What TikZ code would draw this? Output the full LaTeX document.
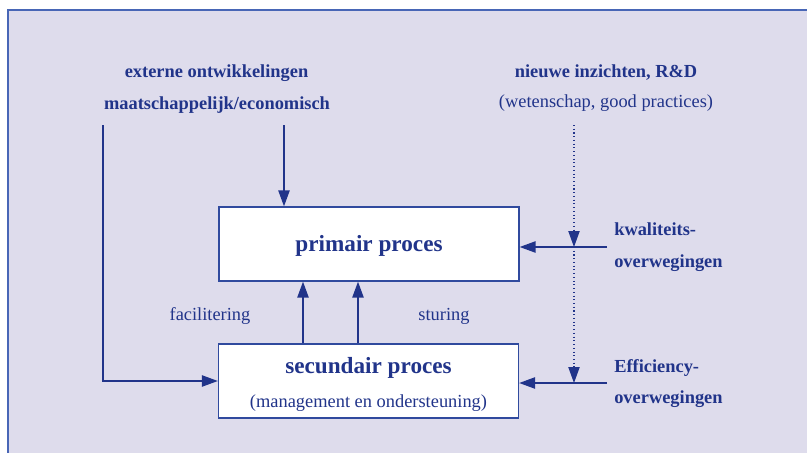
\documentclass[tikz,border=0pt]{standalone}
\usepackage{fontspec}
\setmainfont{Liberation Serif}
\usetikzlibrary{arrows.meta}
\definecolor{navy}{RGB}{33,52,138}
\definecolor{boxblue}{RGB}{48,74,158}
\definecolor{frameblue}{RGB}{72,102,182}
\definecolor{lavender}{RGB}{222,220,236}

\begin{document}
\begin{tikzpicture}[x=0.75pt,y=-0.75pt,
  every node/.style={text=navy,inner sep=0pt,font=\fontsize{13.8}{16}\selectfont},
  head/.style={font=\fontsize{13.8}{16}\selectfont\bfseries},
  proc/.style={draw=boxblue,fill=white,line width=1pt,minimum width=225pt,minimum height=55.5pt},
  arr/.style={draw=navy,line width=1.1pt,-{Triangle[length=12pt,width=8.5pt]}},
  dots/.style={draw=navy,line width=0.8pt,dotted,-{Triangle[length=12pt,width=8.5pt]}}]
  \useasboundingbox (0,0) rectangle (807,453);
  \fill[lavender] (8,10) rectangle (807,453);
  \draw[frameblue,line width=1pt] (807,10) -- (8,10) -- (8,453);
  \node[head,anchor=base] (ext1) at (216.5,78) {externe ontwikkelingen};
  \node[head,anchor=base] (ext2) at (217,109) {maatschappelijk/economisch};
  \node[head,anchor=base] (new1) at (606,77.5) {nieuwe inzichten, R\&D};
  \node[anchor=base] (new2) at (606,108) {(wetenschap, good practices)};
  \node[proc,font=\fontsize{17.4}{20}\selectfont\bfseries] (prim) at (369,244) {\rule{0pt}{15pt}primair proces};
  \node[proc,align=center] (sec) at (368.5,381) {{\fontsize{17.4}{20}\selectfont\bfseries\rule{0pt}{17pt}secundair proces}\\[9.5pt](management en ondersteuning)};
  \node[anchor=base] (fac) at (210,320) {facilitering};
  \node[anchor=base] (stu) at (444,320) {sturing};
  \node[head,anchor=base west] (kwal) at (614,235) {kwaliteits-};
  \node[head,anchor=base west] (kwal2) at (614,267) {overwegingen};
  \node[head,anchor=base west] (eff) at (614,372) {Efficiency-};
  \node[head,anchor=base west] (eff2) at (614,403) {overwegingen};
  \coordinate (extl) at (103,125);
  \coordinate (extr) at (284,125);
  \coordinate (nw) at (574,125);
  \coordinate (kw) at (607,247);
  \coordinate (ef) at (607,383);
  \coordinate (f) at (303,0);
  \coordinate (s) at (358,0);
  \draw[arr] (extr) -- (prim.north -| extr);
  \draw[arr] (extl) |- (sec.west);
  \draw[arr] (sec.north -| f) -- (prim.south -| f);
  \draw[arr] (sec.north -| s) -- (prim.south -| s);
  \draw[arr] (kw) -- (kw -| prim.east);
  \draw[arr] (ef) -- (ef -| sec.east);
  \draw[dots] (nw) -- (nw |- kw);
  \draw[dots] (nw |- kw) -- (nw |- ef);
\end{tikzpicture}
\end{document}
